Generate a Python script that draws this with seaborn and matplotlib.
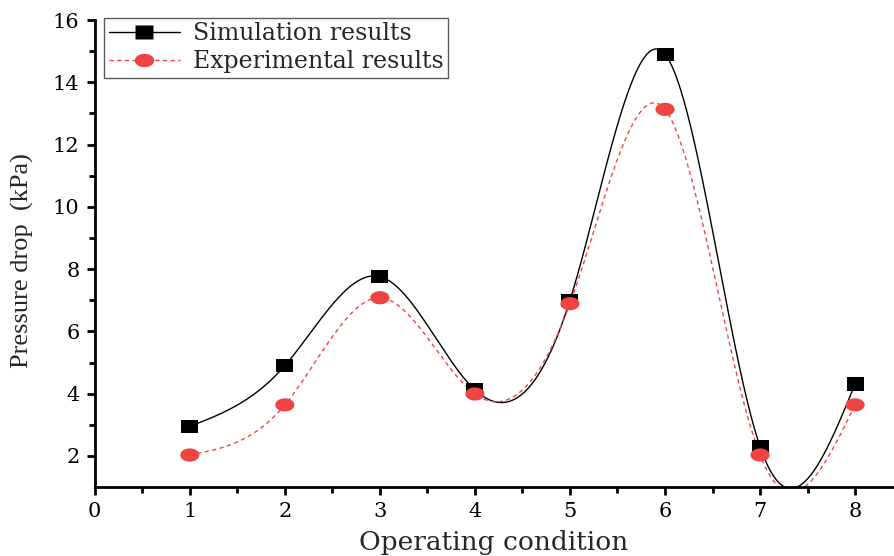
import numpy as np
import pandas as pd
import matplotlib
matplotlib.use("Agg")
import matplotlib.pyplot as plt
from matplotlib.path import Path
from matplotlib.lines import Line2D
import seaborn as sns

# Measured pressure drop for each operating condition
conditions = [1, 2, 3, 4, 5, 6, 7, 8]
simulation = [2.95, 4.90, 7.76, 4.12, 7.00, 14.90, 2.30, 4.31]
experiment = [2.03, 3.64, 7.08, 3.99, 6.89, 13.13, 2.03, 3.64]

RED = "#f04444"


def natural_spline(x, y, n=600):
    """Natural cubic spline through (x, y), evaluated on a dense grid."""
    x = np.asarray(x, float)
    y = np.asarray(y, float)
    m = len(x)
    h = np.diff(x)
    A = np.zeros((m, m))
    b = np.zeros(m)
    A[0, 0] = A[-1, -1] = 1.0
    for i in range(1, m - 1):
        A[i, i - 1] = h[i - 1]
        A[i, i] = 2 * (h[i - 1] + h[i])
        A[i, i + 1] = h[i]
        b[i] = 6 * ((y[i + 1] - y[i]) / h[i] - (y[i] - y[i - 1]) / h[i - 1])
    M = np.linalg.solve(A, b)
    xs = np.linspace(x[0], x[-1], n)
    idx = np.clip(np.searchsorted(x, xs) - 1, 0, m - 2)
    x0, x1 = x[idx], x[idx + 1]
    hh = x1 - x0
    t0, t1 = x1 - xs, xs - x0
    ys = (M[idx] * t0 ** 3 + M[idx + 1] * t1 ** 3) / (6 * hh) \
        + (y[idx] / hh - M[idx] * hh / 6) * t0 \
        + (y[idx + 1] / hh - M[idx + 1] * hh / 6) * t1
    return xs, ys


def ellipse_marker(aspect):
    th = np.linspace(0, 2 * np.pi, 60)
    verts = np.column_stack([np.cos(th) * aspect, np.sin(th)])
    return Path(verts, closed=True)


rect_marker = Path([(-1.3, -1), (1.3, -1), (1.3, 1), (-1.3, 1), (-1.3, -1)],
                   [Path.MOVETO, Path.LINETO, Path.LINETO, Path.LINETO, Path.CLOSEPOLY])
oval_marker = ellipse_marker(1.45)

sns.set_style("ticks")
plt.rcParams["font.family"] = ["DejaVu Serif"]

fig = plt.figure(figsize=(8.94, 5.56), dpi=100)
ax = fig.add_axes([0.106, 0.124, 0.893, 0.840])

sx, sy = natural_spline(conditions, simulation)
ex, ey = natural_spline(conditions, experiment)
sns.lineplot(x=sx, y=sy, ax=ax, color="black", lw=1.0, sort=False, zorder=2)
sns.lineplot(x=ex, y=ey, ax=ax, color=RED, lw=1.0, sort=False, zorder=2,
             dashes=False, linestyle=(0, (3, 2.5)))

df = pd.DataFrame({"cond": conditions, "sim": simulation, "exp": experiment})
sns.scatterplot(data=df, x="cond", y="sim", ax=ax, marker=rect_marker, s=150,
                color="black", edgecolor="none", zorder=3)
sns.scatterplot(data=df, x="cond", y="exp", ax=ax, marker=oval_marker, s=190,
                color=RED, edgecolor="none", zorder=4)

ax.set_xlim(0, 8.4)
ax.set_ylim(1, 16)
ax.set_xticks(range(0, 9))
ax.set_xticks(np.arange(0.5, 8.5, 1), minor=True)
ax.set_yticks(range(2, 17, 2))
ax.set_yticks(range(3, 16, 2), minor=True)

for side in ("top", "right"):
    ax.spines[side].set_visible(False)
for side in ("left", "bottom"):
    ax.spines[side].set_linewidth(2.0)
    ax.spines[side].set_color("black")

ax.tick_params(which="major", direction="out", length=6, width=2.0,
               labelsize=15, colors="black", pad=5)
ax.tick_params(which="minor", direction="out", length=4, width=2.0, colors="black")

ax.set_xlabel("Operating condition", fontsize=19, labelpad=6)
ax.set_ylabel("Pressure drop  (kPa)", fontsize=19, family="Liberation Serif")
ax.yaxis.set_label_coords(-0.076, 0.484)

handles = [
    Line2D([], [], color="black", lw=1.0, marker=rect_marker, markersize=13,
           markerfacecolor="black", markeredgecolor="none"),
    Line2D([], [], color=RED, lw=1.0, linestyle=(0, (3, 2.5)), marker=oval_marker,
           markersize=14, markerfacecolor=RED, markeredgecolor="none"),
]
leg = ax.legend(handles, ["Simulation results", "Experimental results"],
                loc="upper left", bbox_to_anchor=(0.012, 1.005), fontsize=17,
                frameon=True, fancybox=False, handlelength=3.0,
                borderpad=0.2, labelspacing=0.2, handletextpad=0.55,
                borderaxespad=0.0)
leg.get_frame().set_edgecolor("#333333")
leg.get_frame().set_linewidth(1.0)

fig.savefig("out.png", dpi=100)
